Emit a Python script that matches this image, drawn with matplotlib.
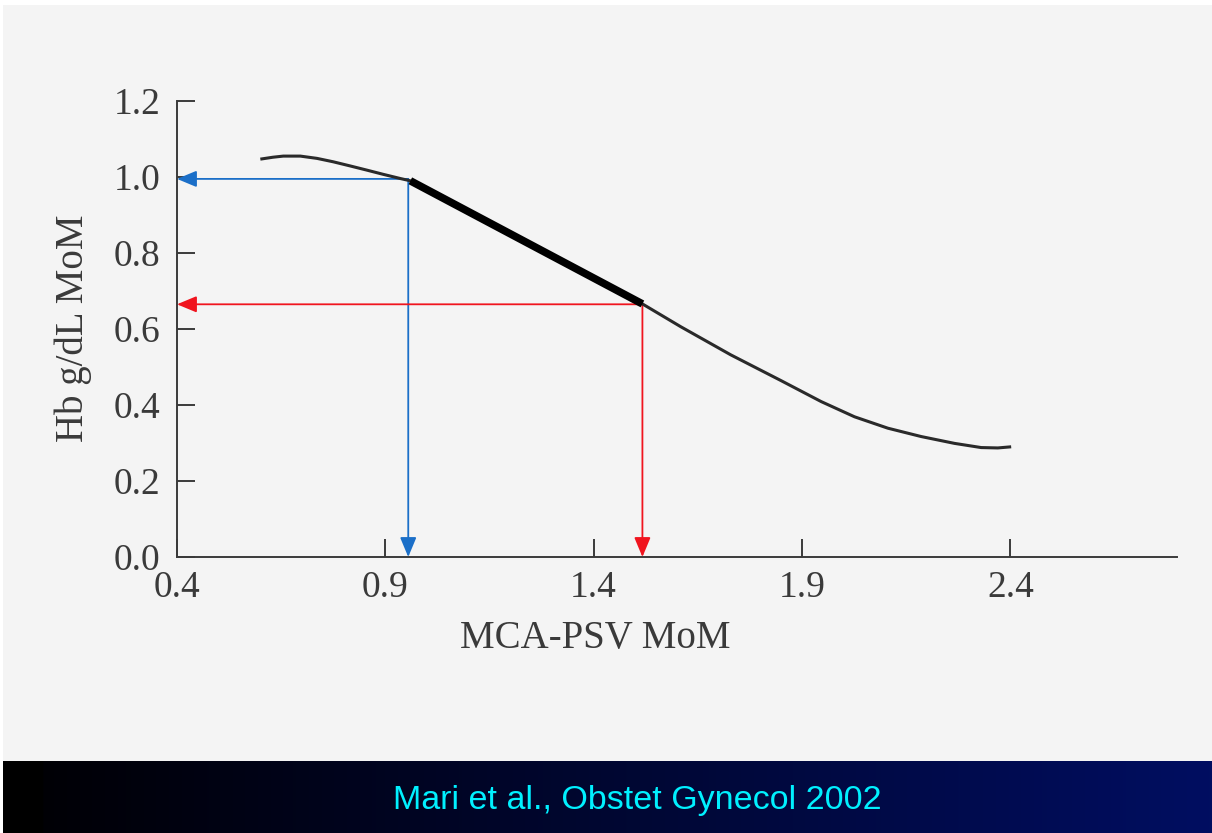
import numpy as np
import matplotlib
matplotlib.use("Agg")
import matplotlib.pyplot as plt
from matplotlib.patches import Rectangle, FancyArrowPatch

# ---- data ----
curve_x = [0.600, 0.630, 0.655, 0.696, 0.736, 0.775, 0.816, 0.856, 0.895, 0.936, 0.960,
           1.240, 1.517, 1.609, 1.729, 1.850, 1.946, 2.026, 2.106, 2.186, 2.266, 2.330, 2.370, 2.402]
curve_y = [1.047, 1.052, 1.055, 1.055, 1.049, 1.040, 1.029, 1.018, 1.007, 0.996, 0.990,
           0.827, 0.666, 0.606, 0.532, 0.464, 0.409, 0.369, 0.339, 0.317, 0.299, 0.288, 0.287, 0.290]
thick_x = [0.960, 1.517]
thick_y = [0.990, 0.666]
blue_pt = (0.955, 0.995)
red_pt = (1.517, 0.665)
x_ticks = [0.4, 0.9, 1.4, 1.9, 2.4]
x_ticklabels = ["0.4", "0.9", "1.4", "1.9", "2.4"]
y_ticks = [0.0, 0.2, 0.4, 0.6, 0.8, 1.0, 1.2]
y_ticklabels = ["0.0", "0.2", "0.4", "0.6", "0.8", "1.0", "1.2"]
x_label = "MCA-PSV MoM"
y_label = "Hb g/dL MoM"
caption = "Mari et al., Obstet Gynecol 2002"

W, H = 1212, 833
fig = plt.figure(figsize=(W / 100, H / 100), dpi=100)
fig.patch.set_facecolor("white")

# gray slide area
fig.add_artist(Rectangle((3 / W, (H - 761) / H), 1 - 3 / W, (761 - 5) / H,
                         transform=fig.transFigure, facecolor="#f4f4f4",
                         edgecolor="none", zorder=0))

# bottom banner with gradient
axb = fig.add_axes([3 / W, 0, 1 - 3 / W, 72 / H])
n = 600
t = np.linspace(0, 1, n)
start = 39 / (W - 3)
grad = np.clip((t - start) / (1 - start), 0, 1)
r = np.zeros(n)
g = 0.055 * grad
b = 0.02 + 0.36 * grad
b[t < start] = 0
img = np.stack([r, g, b], axis=-1)[None, :, :]
axb.imshow(img, aspect="auto", extent=[0, 1, 0, 1])
axb.set_xlim(0, 1)
axb.set_ylim(0, 1)
axb.axis("off")
fig.text(637 / W, (H - 801) / H, caption, color="#00f0ff",
         fontsize=24.5, family=["Liberation Sans", "DejaVu Sans"],
         ha="center", va="center")

# main axes
x0, x1 = 177, 1177
y0, y1 = 557, 101
ax = fig.add_axes([x0 / W, (H - y0) / H, (x1 - x0) / W, (y0 - y1) / H])
ax.set_facecolor("none")
ax.set_xlim(0.4, 2.8)
ax.set_ylim(0.0, 1.2)
axc = "#3a3a3a"
for s in ["top", "right"]:
    ax.spines[s].set_visible(False)
for s in ["left", "bottom"]:
    ax.spines[s].set_color(axc)
    ax.spines[s].set_linewidth(1.4)
ax.spines["left"].set_bounds(0.0, 1.2)
ax.set_xticks(x_ticks)
ax.set_xticklabels(x_ticklabels)
ax.set_yticks(y_ticks)
ax.set_yticklabels(y_ticklabels)
serif = ["Liberation Serif", "DejaVu Serif"]
ax.tick_params(direction="in", length=13, width=1.4, color=axc,
               labelsize=27, labelcolor=axc)
ax.tick_params(axis="x", pad=10)
ax.tick_params(axis="y", pad=12)
for lab in ax.get_xticklabels() + ax.get_yticklabels():
    lab.set_family(serif)

ax.set_xlabel(x_label, fontsize=28, family=serif, color=axc)
ax.set_ylabel(y_label, fontsize=28, family=serif, color=axc)
ax.xaxis.set_label_coords(0.418, -0.138)
ax.yaxis.set_label_coords(-0.085, 0.502)

# curve
ax.plot(curve_x, curve_y, color="#2a2a2a", lw=2.2, solid_capstyle="butt",
        solid_joinstyle="round", zorder=3)
ax.plot(thick_x, thick_y, color="black", lw=5.5, solid_capstyle="butt", zorder=4)

# arrows
def arrow(p, q, c):
    a = FancyArrowPatch(p, q, arrowstyle="-|>,head_length=0.6,head_width=0.25",
                        mutation_scale=20, color=c, lw=1.3,
                        shrinkA=0, shrinkB=0, zorder=2, clip_on=False)
    ax.add_patch(a)

blue = "#1b6fc8"
red = "#f0141e"
arrow(blue_pt, (0.4, blue_pt[1]), blue)
arrow(blue_pt, (blue_pt[0], 0.0), blue)
arrow(red_pt, (0.4, red_pt[1]), red)
arrow(red_pt, (red_pt[0], 0.0), red)

fig.savefig("out.png", dpi=100)
